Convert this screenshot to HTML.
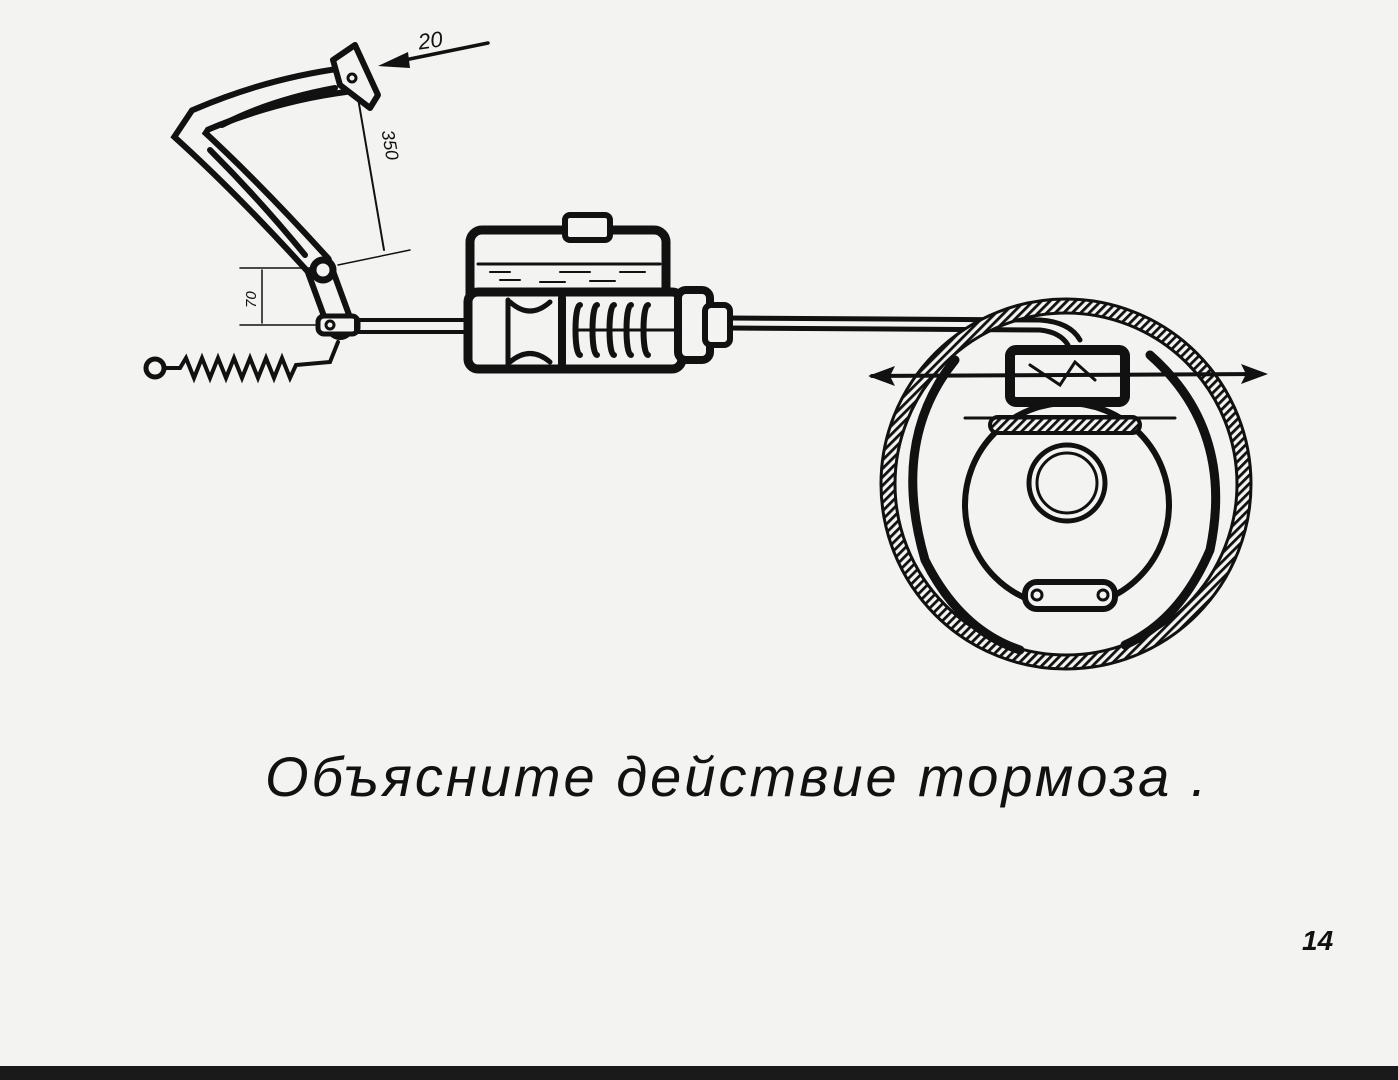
<!DOCTYPE html>
<html><head><meta charset="utf-8"><style>
html,body{margin:0;padding:0;background:#f3f3f1;}
svg{display:block}
</style></head><body>
<svg width="1398" height="1080" viewBox="0 0 1398 1080" xmlns="http://www.w3.org/2000/svg">
<defs>
<pattern id="h" width="6" height="6" patternUnits="userSpaceOnUse" patternTransform="rotate(45)">
<rect width="6" height="6" fill="#f3f3f1"/><rect width="2.8" height="6" fill="#111"/>
</pattern>
</defs>
<rect width="1398" height="1080" fill="#f3f3f1"/>
<rect x="0" y="1066" width="1398" height="14" fill="#1a1a1a"/>
<g stroke="#111" fill="none" stroke-linecap="round">
<!-- pedal -->
<path d="M345 80 Q270 90 200 120 L190 135 Q250 190 318 265 L340 325" stroke-width="30" stroke="#111"/>
<path d="M345 80 Q270 90 200 120 L190 135 Q250 190 318 265 L340 325" stroke-width="18" stroke="#f3f3f1"/>
<path d="M335 88 Q270 100 222 125 M210 150 Q260 200 305 255" stroke-width="6"/>
<polygon points="333,60 355,45 378,95 370,108 340,85" fill="#f3f3f1" stroke-width="6" stroke-linejoin="round"/>
<circle cx="352" cy="78" r="4" stroke-width="3"/>
<circle cx="323" cy="270" r="10" stroke-width="7" fill="#f3f3f1"/>
<rect x="318" y="316" width="40" height="18" rx="6" stroke-width="5" fill="#f3f3f1"/>
<circle cx="330" cy="325" r="4" stroke-width="3"/>
<!-- dims -->
<line x1="395" y1="62" x2="488" y2="43" stroke-width="3.5"/>
<polygon points="378,66 408,52 410,68" fill="#111" stroke="none"/>
<line x1="358" y1="98" x2="384" y2="250" stroke-width="2"/>
<line x1="338" y1="265" x2="410" y2="250" stroke-width="1.5"/>
<line x1="240" y1="268" x2="310" y2="268" stroke-width="1.5"/>
<line x1="240" y1="325" x2="315" y2="325" stroke-width="1.5"/>
<line x1="262" y1="270" x2="262" y2="323" stroke-width="1.5"/>
<!-- spring -->
<circle cx="155" cy="368" r="9" stroke-width="5"/>
<path d="M164 368 L180 368 L186 358 L194 378 L202 358 L210 378 L218 358 L226 378 L234 358 L242 378 L250 358 L258 378 L266 358 L274 378 L282 358 L290 378 L296 365 L330 362 L338 342" stroke-width="4"/>
<!-- push rod -->
<rect x="356" y="320" width="115" height="12" stroke-width="4"/>
<!-- master cylinder -->
<rect x="470" y="230" width="196" height="80" rx="12" stroke-width="9"/>
<rect x="565" y="215" width="45" height="25" rx="5" stroke-width="6" fill="#f3f3f1"/>
<line x1="478" y1="264" x2="660" y2="264" stroke-width="3"/>
<path d="M490 272h20 M560 272h30 M620 272h25 M500 280h20 M540 282h25 M590 281h25" stroke-width="2"/>
<rect x="468" y="292" width="214" height="77" rx="10" stroke-width="9" fill="#f3f3f1"/>
<rect x="678" y="290" width="32" height="70" rx="8" stroke-width="8" fill="#f3f3f1"/>
<rect x="705" y="305" width="25" height="40" rx="6" stroke-width="6" fill="#f3f3f1"/>
<line x1="562" y1="298" x2="562" y2="365" stroke-width="8"/>
<path d="M510 302 Q530 320 550 302 M510 362 Q530 345 550 362" stroke-width="5"/>
<line x1="508" y1="300" x2="508" y2="364" stroke-width="5"/>
<path d="M580 305 c-6 0 -6 50 0 50 M597 305 c-6 0 -6 50 0 50 M614 305 c-6 0 -6 50 0 50 M631 305 c-6 0 -6 50 0 50 M648 305 c-6 0 -6 50 0 50" stroke-width="6"/>
<line x1="575" y1="330" x2="680" y2="330" stroke-width="3"/>
<!-- pipe -->
<path d="M730 318 L1040 320 Q1070 322 1080 340 M730 328 L1040 330 Q1060 332 1068 345" stroke-width="5"/>
<!-- drum -->
<circle cx="1066" cy="484" r="178" stroke="url(#h)" stroke-width="14"/>
<circle cx="1066" cy="484" r="185" stroke-width="3"/>
<circle cx="1066" cy="484" r="171" stroke-width="3"/>
<path d="M955 360 Q890 440 925 560 Q960 630 1020 650" stroke-width="9"/>
<path d="M1150 355 Q1235 430 1210 550 Q1180 620 1125 645" stroke-width="9"/>
<circle cx="1067" cy="505" r="102" stroke-width="6" fill="#f3f3f1"/>
<circle cx="1067" cy="483" r="38" stroke-width="5"/>
<circle cx="1067" cy="483" r="30" stroke-width="3"/>
<rect x="1025" y="582" width="90" height="27" rx="12" stroke-width="6" fill="#f3f3f1"/>
<circle cx="1037" cy="595" r="5" stroke-width="3"/><circle cx="1103" cy="595" r="5" stroke-width="3"/>
<!-- wheel cylinder -->
<rect x="1010" y="350" width="115" height="52" rx="6" stroke-width="10" fill="#f3f3f1"/>
<path d="M1030 365 L1060 385 L1075 362 L1095 380" stroke-width="3"/>
<line x1="872" y1="376" x2="1262" y2="374" stroke-width="4"/>
<polygon points="868,376 895,366 890,376 895,386" fill="#111" stroke="none"/>
<polygon points="1268,374 1241,364 1246,374 1241,384" fill="#111" stroke="none"/>
<rect x="990" y="417" width="150" height="16" rx="8" stroke-width="4" fill="url(#h)"/>
<line x1="965" y1="418" x2="1175" y2="418" stroke-width="3"/>
</g>
<g font-family="Liberation Sans, DejaVu Sans, sans-serif" fill="#111">
<text x="418" y="48" font-size="22" font-style="italic" transform="rotate(-8 430 40)">20</text>
<text x="370" y="135" font-size="18" font-style="italic" transform="rotate(80 378 140)">350</text>
<text x="236" y="312" font-size="15" font-style="italic" transform="rotate(-90 244 300)">70</text>
<text x="265" y="796" font-size="56" font-style="italic" letter-spacing="3">Объясните  действие  тормоза .</text>
<text x="1302" y="950" font-size="28" font-style="italic" font-weight="bold">14</text>
</g>
</svg>
</body></html>
